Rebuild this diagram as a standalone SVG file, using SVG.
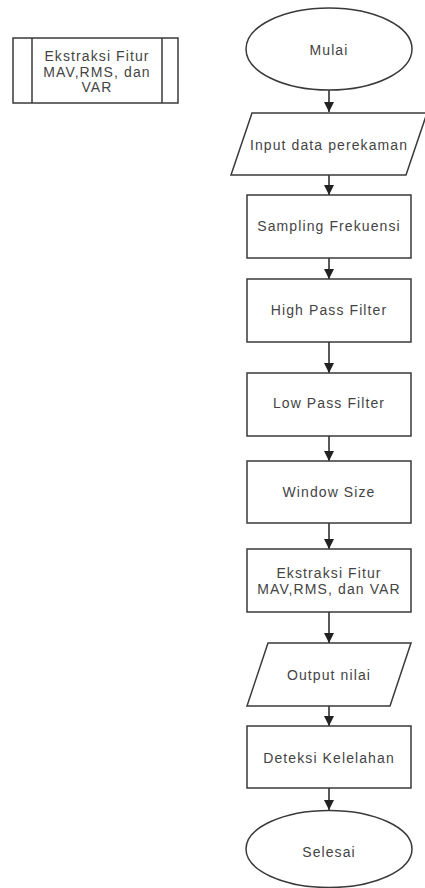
<svg xmlns="http://www.w3.org/2000/svg" width="425" height="888" viewBox="0 0 425 888">
<style>
.s{fill:#fff;stroke:#3a3a3a;stroke-width:1.5}
.t{font-family:"Liberation Sans",Arial,sans-serif;font-size:14px;letter-spacing:1.1px;fill:#444;text-anchor:middle}
.c{stroke:#222;stroke-width:1.5;fill:none}
</style>
<defs>
<marker id="ah" viewBox="0 0 10 10" refX="10" refY="5" markerWidth="10" markerHeight="10" markerUnits="userSpaceOnUse" orient="auto">
<path d="M0,0 L10,5 L0,10 Z" fill="#222"/>
</marker>
</defs>
<rect width="425" height="888" fill="#fff"/>
<g id="legend">
<rect class="s" x="13" y="38" width="165" height="65"/>
<line class="s" x1="32" y1="38" x2="32" y2="103"/>
<line class="s" x1="162" y1="38" x2="162" y2="103"/>
<text class="t" x="97" y="61">Ekstraksi Fitur</text>
<text class="t" x="97" y="77">MAV,RMS, dan</text>
<text class="t" x="97" y="92">VAR</text>
</g>
<g id="connectors">
<line class="c" x1="329" y1="90" x2="329" y2="112" marker-end="url(#ah)"/>
<line class="c" x1="329" y1="175" x2="329" y2="195" marker-end="url(#ah)"/>
<line class="c" x1="329" y1="258" x2="329" y2="279" marker-end="url(#ah)"/>
<line class="c" x1="329" y1="342" x2="329" y2="373" marker-end="url(#ah)"/>
<line class="c" x1="329" y1="436" x2="329" y2="461" marker-end="url(#ah)"/>
<line class="c" x1="329" y1="523" x2="329" y2="549" marker-end="url(#ah)"/>
<line class="c" x1="329" y1="612" x2="329" y2="643" marker-end="url(#ah)"/>
<line class="c" x1="329" y1="706" x2="329" y2="726" marker-end="url(#ah)"/>
<line class="c" x1="329" y1="788" x2="329" y2="810" marker-end="url(#ah)"/>
</g>
<g id="mulai">
<ellipse class="s" cx="329" cy="49" rx="83" ry="41"/>
<text class="t" x="329" y="55">Mulai</text>
</g>
<g id="input">
<polygon class="s" points="252,113 427,113 406,175 231,175"/>
<text class="t" x="329" y="150">Input data perekaman</text>
</g>
<g id="sampling">
<rect class="s" x="247" y="195" width="164" height="63"/>
<text class="t" x="329" y="231">Sampling Frekuensi</text>
</g>
<g id="hpf">
<rect class="s" x="247" y="279" width="164" height="63"/>
<text class="t" x="329" y="315">High Pass Filter</text>
</g>
<g id="lpf">
<rect class="s" x="247" y="373" width="164" height="63"/>
<text class="t" x="329" y="408">Low Pass Filter</text>
</g>
<g id="window">
<rect class="s" x="247" y="461" width="164" height="62"/>
<text class="t" x="329" y="497">Window Size</text>
</g>
<g id="ekstraksi">
<rect class="s" x="247" y="549" width="164" height="63"/>
<text class="t" x="329" y="578">Ekstraksi Fitur</text>
<text class="t" x="329" y="594">MAV,RMS, dan VAR</text>
</g>
<g id="output">
<polygon class="s" points="268,643 411,643 390,706 247,706"/>
<text class="t" x="329" y="680">Output nilai</text>
</g>
<g id="deteksi">
<rect class="s" x="247" y="726" width="164" height="62"/>
<text class="t" x="329" y="763">Deteksi Kelelahan</text>
</g>
<g id="selesai">
<ellipse class="s" cx="329" cy="849" rx="83" ry="38.5"/>
<text class="t" x="329" y="857">Selesai</text>
</g>
</svg>
